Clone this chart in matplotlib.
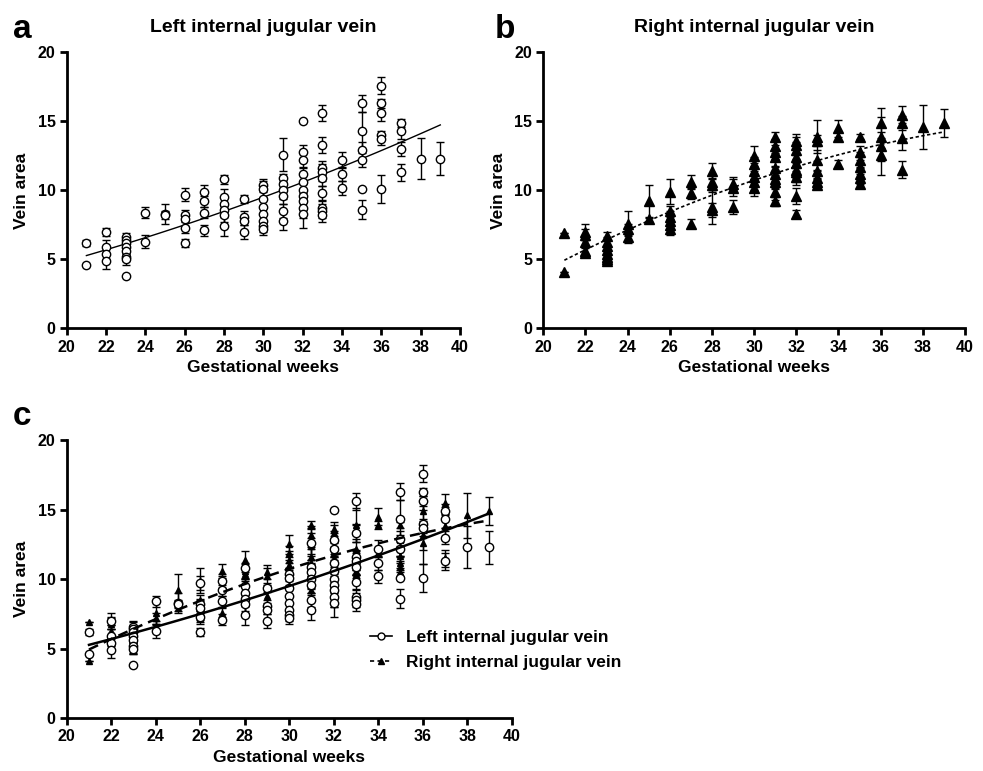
import numpy as np
import matplotlib
matplotlib.use("Agg")
import matplotlib.pyplot as plt

plt.rcParams['font.family'] = ['Liberation Sans', 'DejaVu Sans']
plt.rcParams['font.weight'] = 'bold'

# Left internal jugular vein: week -> (mean area, sd)
left_weeks = [21, 22, 23, 24, 25, 26, 27, 28, 29, 30, 31, 32, 33, 34, 35, 36, 37, 38, 39]
left_vals = [
    [6.2, 4.6],
    [7.0, 5.9, 5.4, 4.9],
    [6.6, 6.4, 6.2, 5.9, 5.6, 5.2, 5.0, 3.8],
    [8.4, 6.3],
    [8.3, 8.2],
    [9.7, 8.2, 7.9, 7.3, 6.2],
    [9.9, 9.2, 8.4, 7.1],
    [10.8, 9.5, 9.0, 8.6, 8.2, 7.4],
    [9.4, 8.1, 7.8, 7.0],
    [10.4, 10.1, 9.4, 8.8, 8.3, 7.8, 7.4, 7.2],
    [12.6, 10.9, 10.5, 10.0, 9.6, 8.5, 7.8],
    [15.0, 12.8, 12.2, 11.2, 10.6, 10.0, 9.6, 9.2, 8.7, 8.3],
    [15.6, 13.3, 11.6, 11.3, 10.9, 9.8, 8.7, 8.5, 8.2],
    [12.2, 11.2, 10.2],
    [16.3, 14.3, 12.9, 12.2, 10.1, 8.6],
    [17.6, 16.3, 15.6, 14.0, 13.7, 10.1],
    [14.9, 14.3, 13.0, 11.3],
    [12.3],
    [12.3],
]
left_sd = [
    [0.2, 0.0],
    [0.3, 0.5, 0.4, 0.6],
    [0.3, 0.3, 0.4, 0.3, 0.3, 0.3, 0.4, 0.0],
    [0.4, 0.5],
    [0.7, 0.3],
    [0.5, 0.4, 0.5, 0.4, 0.3],
    [0.5, 0.4, 0.4, 0.4],
    [0.3, 0.6, 0.5, 0.5, 0.5, 0.7],
    [0.3, 0.4, 0.3, 0.5],
    [0.4, 0.6, 0.5, 0.6, 0.6, 0.5, 0.4, 0.4],
    [1.2, 0.3, 0.5, 0.6, 0.6, 0.5, 0.7],
    [0.0, 0.5, 0.6, 0.5, 0.6, 0.5, 0.5, 0.6, 0.7, 1.0],
    [0.6, 0.6, 0.5, 0.6, 0.6, 0.5, 0.5, 0.5, 0.5],
    [0.6, 0.5, 0.5],
    [0.6, 1.4, 0.6, 0.5, 0.0, 0.7],
    [0.6, 0.3, 0.6, 0.3, 0.4, 1.0],
    [0.3, 0.6, 0.5, 0.6],
    [1.5],
    [1.2],
]

# Right internal jugular vein
right_weeks = [21, 22, 23, 24, 25, 26, 27, 28, 29, 30, 31, 32, 33, 34, 35, 36, 37, 38, 39]
right_vals = [
    [6.9, 4.1],
    [7.0, 6.8, 6.3, 5.6, 5.5],
    [6.7, 6.3, 6.0, 5.7, 5.4, 5.2, 5.0, 4.9],
    [7.6, 7.2, 6.6],
    [9.2, 7.9],
    [9.9, 8.5, 8.1, 7.8, 7.5, 7.2],
    [10.6, 9.8, 7.6],
    [11.4, 10.6, 10.4, 8.8, 8.6],
    [10.5, 10.2, 8.8],
    [12.5, 11.9, 11.4, 11.0, 10.6, 10.2],
    [13.9, 13.2, 12.8, 12.4, 11.6, 11.2, 10.8, 10.6, 9.9, 9.2],
    [13.6, 13.3, 12.9, 12.4, 12.0, 11.5, 11.3, 11.0, 9.6, 8.3],
    [13.9, 13.6, 12.2, 11.4, 10.9, 10.6, 10.4],
    [14.5, 13.9, 11.9],
    [13.9, 12.8, 12.2, 11.7, 11.2, 10.9, 10.5],
    [14.9, 13.9, 13.2, 12.6],
    [15.5, 14.9, 13.8, 11.5],
    [14.6],
    [14.9],
]
right_sd = [
    [0.0, 0.0],
    [0.6, 0.4, 0.4, 0.3, 0.3],
    [0.3, 0.3, 0.4, 0.3, 0.3, 0.3, 0.3, 0.3],
    [0.9, 0.4, 0.4],
    [1.2, 0.2],
    [0.9, 0.4, 0.4, 0.4, 0.4, 0.4],
    [0.5, 0.4, 0.3],
    [0.6, 0.6, 0.5, 1.2, 0.5],
    [0.5, 0.6, 0.5],
    [0.7, 0.5, 0.6, 0.6, 0.6, 0.6],
    [0.3, 0.5, 0.5, 0.6, 0.6, 0.5, 0.6, 0.5, 0.6, 0.3],
    [0.5, 0.6, 0.6, 0.6, 0.6, 0.6, 0.7, 0.6, 0.6, 0.3],
    [1.2, 0.4, 0.7, 0.6, 0.5, 0.3, 0.3],
    [0.6, 0.3, 0.3],
    [0.2, 0.4, 0.6, 0.5, 0.5, 0.4, 0.3],
    [1.1, 0.3, 2.1, 0.5],
    [0.6, 0.5, 0.9, 0.6],
    [1.6],
    [1.0],
]


def flatten(weeks, vals, sds):
    x, y, e = [], [], []
    for w, vs, ss in zip(weeks, vals, sds):
        for v, s in zip(vs, ss):
            x.append(w)
            y.append(v)
            e.append(s)
    return np.array(x, float), np.array(y), np.array(e)


lx, ly, le = flatten(left_weeks, left_vals, left_sd)
rx, ry, re = flatten(right_weeks, right_vals, right_sd)

# second order regression curves
lfit = np.polyfit(lx, ly, 2)
rfit = np.polyfit(rx, ry, 2)
xs = np.linspace(21, 39, 100)


def style_axes(ax):
    for s in ['top', 'right']:
        ax.spines[s].set_visible(False)
    for s in ['left', 'bottom']:
        ax.spines[s].set_linewidth(2.0)
    ax.set_xlim(20, 40)
    ax.set_ylim(0, 20)
    ax.set_xticks(range(20, 41, 2))
    ax.set_yticks([0, 5, 10, 15, 20])
    ax.tick_params(width=2.0, length=5, labelsize=11.5, pad=3)
    for lab in ax.get_xticklabels() + ax.get_yticklabels():
        lab.set_fontweight('bold')
    ax.set_xlabel('Gestational weeks', fontsize=12.5, fontweight='bold', labelpad=4)
    ax.set_ylabel('Vein area', fontsize=12.5, fontweight='bold', labelpad=6)


fig = plt.figure(figsize=(9.83, 7.71), dpi=100)
ax_a = fig.add_axes([0.0679, 0.574, 0.400, 0.358])
ax_b = fig.add_axes([0.5527, 0.574, 0.429, 0.358])
ax_c = fig.add_axes([0.0679, 0.0684, 0.4527, 0.3606])

# panel a
ax_a.errorbar(lx, ly, yerr=le, fmt='o', mfc='white', mec='black', mew=1.0, ms=6,
              ecolor='black', elinewidth=1.0, capsize=3, capthick=1.0, zorder=3)
ax_a.plot(xs, np.polyval(lfit, xs), color='black', lw=1.0, zorder=2)
style_axes(ax_a)
ax_a.set_title('Left internal jugular vein', fontsize=14, fontweight='bold', pad=15)

# panel b
ax_b.errorbar(rx, ry, yerr=re, fmt='^', mfc='black', mec='black', ms=7,
              ecolor='black', elinewidth=1.0, capsize=3, capthick=1.0, zorder=3)
ax_b.plot(xs, np.polyval(rfit, xs), color='black', lw=1.2, ls=(0, (2, 1.5)), zorder=2)
style_axes(ax_b)
ax_b.set_title('Right internal jugular vein', fontsize=14, fontweight='bold', pad=15)

# panel c
ax_c.errorbar(rx, ry, yerr=re, fmt='^', mfc='black', mec='black', ms=4.5,
              ecolor='black', elinewidth=1.0, capsize=3, capthick=1.0, zorder=3)
ax_c.errorbar(lx, ly, yerr=le, fmt='o', mfc='white', mec='black', mew=1.0, ms=6,
              ecolor='black', elinewidth=1.0, capsize=3, capthick=1.0, zorder=4)
ax_c.plot(xs, np.polyval(lfit, xs), color='black', lw=1.8, zorder=5)
ax_c.plot(xs, np.polyval(rfit, xs), color='black', lw=1.8, ls=(0, (4, 2.5)), zorder=5)
style_axes(ax_c)

h1, = ax_c.plot([], [], color='black', lw=1.2, marker='o', mfc='white', mec='black', ms=5)
h2, = ax_c.plot([], [], color='black', lw=1.2, ls=(0, (2.5, 2)), marker='^', mfc='black', ms=4)
fig.legend([h1, h2], ['Left internal jugular vein', 'Right internal jugular vein'],
           loc='upper left', bbox_to_anchor=(0.36, 0.203), frameon=False,
           prop={'weight': 'bold', 'size': 12.5}, handlelength=1.3, labelspacing=0.55,
           handletextpad=0.8)

fig.text(0.013, 0.962, 'a', fontsize=24, fontweight='bold', va='center')
fig.text(0.503, 0.962, 'b', fontsize=24, fontweight='bold', va='center')
fig.text(0.013, 0.46, 'c', fontsize=24, fontweight='bold', va='center')

fig.savefig('out.png', dpi=100)
